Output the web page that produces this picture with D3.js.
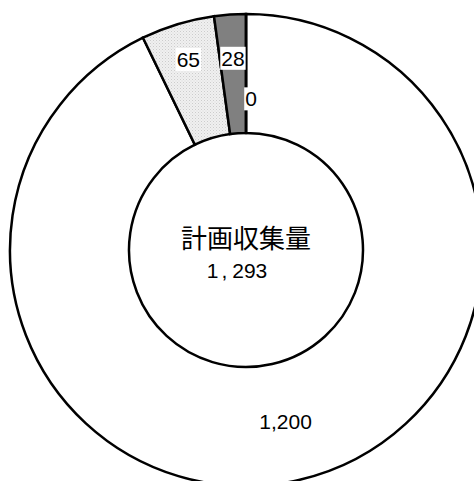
<!DOCTYPE html>
<html>
<head>
<meta charset="utf-8">
<script src="https://cdn.jsdelivr.net/npm/d3@7"></script>
<style>
  body { margin: 0; background: #fff; }
  text { font-family: "Liberation Sans", Arial, sans-serif; }
</style>
</head>
<body>
<div id="chart"></div>
<script>
// data, clockwise from 12 o'clock
var categories = ["a", "b", "c", "d"];
var values = [1200, 65, 28, 0];
var valueLabels = ["1,200", "65", "28", "0"];
var centerTitle = "計画収集量";
var centerValue = ["1", ",", "293"];

var width = 474,
    height = 481,
    cx = 246,
    cy = 250,
    outerR = 236,
    innerR = 117;

var svg = d3.select("#chart")
    .append("svg")
    .attr("width", width)
    .attr("height", height);

// stipple fill for the 65 slice
var defs = svg.append("defs");
var pat = defs.append("pattern")
    .attr("id", "dots")
    .attr("width", 3)
    .attr("height", 3)
    .attr("patternUnits", "userSpaceOnUse");
pat.append("rect").attr("width", 3).attr("height", 3).attr("fill", "#f0f0f0");
pat.append("rect").attr("width", 1).attr("height", 1).attr("fill", "#cccccc");
pat.append("rect").attr("x", 1.5).attr("y", 1.5).attr("width", 1).attr("height", 1).attr("fill", "#dadada");

var fills = ["#ffffff", "url(#dots)", "#808080", "#ffffff"];

var pie = d3.pie()
    .sort(null)
    .value(function(d) { return d; });

var arc = d3.arc()
    .innerRadius(innerR)
    .outerRadius(outerR);

var g = svg.append("g")
    .attr("transform", "translate(" + cx + "," + cy + ")");

var arcs = pie(values);

g.selectAll(".slice")
    .data(arcs)
    .enter().append("path")
    .attr("class", "slice")
    .attr("d", arc)
    .attr("fill", function(d, i) { return fills[i]; })
    .attr("stroke", "#000")
    .attr("stroke-width", 2.5)
    .attr("stroke-linejoin", "miter");

// label radius: centroid for the big slice, pushed out for thin ones
function labelPos(d, i) {
    var mid = (d.startAngle + d.endAngle) / 2;
    var r = (innerR + outerR) / 2;
    if (i == 1) r = 199;
    if (i == 2) r = 192;
    if (i == 3) r = 151;
    var x = Math.sin(mid) * r,
        y = -Math.cos(mid) * r;
    if (i == 3) x += 5;
    return [x, y];
}

var lab = g.selectAll(".lab")
    .data(arcs)
    .enter().append("g")
    .attr("class", "lab")
    .attr("transform", function(d, i) {
        var p = labelPos(d, i);
        return "translate(" + p[0] + "," + p[1] + ")";
    });

lab.append("rect").attr("fill", "#fff");
lab.append("text")
    .attr("text-anchor", "middle")
    .attr("dy", "0.35em")
    .attr("font-size", "21px")
    .attr("fill", "#000")
    .text(function(d, i) { return valueLabels[i]; });

lab.each(function(d, i) {
    var t = d3.select(this).select("text").node().getBBox();
    if (i == 0) return;
    d3.select(this).select("rect")
        .attr("x", t.x - 1)
        .attr("y", t.y)
        .attr("width", t.width + 2)
        .attr("height", t.height);
});

// center text
g.append("text")
    .attr("x", 0)
    .attr("y", -2)
    .attr("text-anchor", "middle")
    .attr("font-size", "26px")
    .style("font-family", "'Noto Sans CJK JP', sans-serif")
    .attr("fill", "#000")
    .text(centerTitle);

var num = g.append("text")
    .attr("x", -9)
    .attr("y", 28)
    .attr("text-anchor", "middle")
    .attr("font-size", "21px")
    .attr("fill", "#000");
num.append("tspan").text(centerValue[0]);
num.append("tspan").attr("dx", 3).text(centerValue[1]);
num.append("tspan").attr("dx", 5).text(centerValue[2]);
</script>
</body>
</html>
